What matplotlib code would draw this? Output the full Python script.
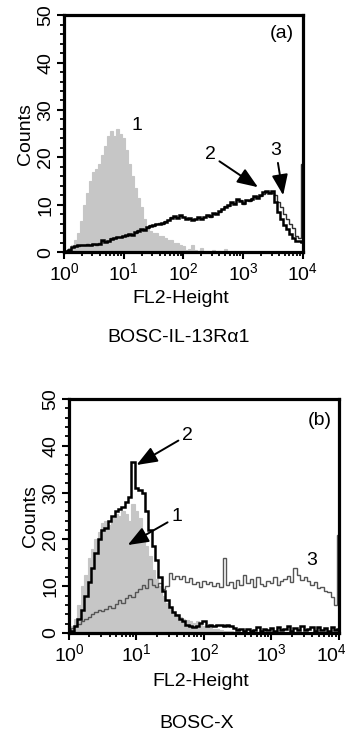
import numpy as np
import matplotlib
matplotlib.use("Agg")
import matplotlib.pyplot as plt
import matplotlib.transforms as mtransforms
from matplotlib.ticker import MultipleLocator, LogLocator, NullFormatter

plt.rcParams['font.family'] = ['Liberation Sans', 'DejaVu Sans']
plt.rcParams['mathtext.fontset'] = 'custom'
plt.rcParams['mathtext.rm'] = 'Liberation Sans'
plt.rcParams['mathtext.it'] = 'Liberation Sans:italic'

# channel grid (log10 of FL2-Height), 0.05 decade bins
log_channel = np.round(np.arange(0, 4.001, 0.05), 2)

# Panel (a): BOSC-IL-13Ra1
a_curve1 = [0, 0.3, 0.8, 1.5, 2.5, 4, 6.5, 10, 12.5, 15,
            17, 17.5, 18.5, 20.5, 22.5, 24.5, 25.5, 24.5, 26, 25,
            24, 21.5, 18.5, 16, 13.5, 11.5, 9.5, 7, 5.5, 4.5,
            4, 4, 3.5, 3.5, 3, 2.5, 2.5, 2, 2, 1.5,
            1.2, 0.5, 0.6, 1.5, 0.4, 0.3, 0.8, 0.2, 0.3, 0.1,
            0.5, 0, 0.2, 0, 0.6, 0, 0, 0.2, 0, 0,
            0, 0, 0, 0, 0, 0, 0, 0, 0, 0,
            0, 0, 0, 0, 0, 0, 0, 0, 0, 0, 0]
a_curve2 = [0, 0.2, 0.5, 1, 1.2, 1.5, 1.5, 1.5, 1.6, 1.6,
            1.7, 1.7, 1.8, 2.5, 2.2, 2.4, 2.8, 3.0, 3.1, 3.2,
            3.4, 3.6, 3.8, 3.7, 4.2, 4.5, 4.8, 4.7, 5.3, 5.6,
            5.8, 5.9, 6.0, 6.1, 6.4, 6.8, 7.2, 7.6, 7.3, 7.8,
            7.4, 7.0, 7.2, 6.8, 6.9, 7.4, 7.1, 7.5, 7.8, 7.6,
            8.2, 8.0, 8.6, 9.2, 9.6, 9.9, 10.5, 10.2, 11.2, 10.8,
            10.4, 10.9, 11.0, 11.3, 11.8, 11.5, 12.0, 12.6, 13.0, 12.4,
            12.8, 10.5, 8.5, 7.0, 5.8, 4.8, 3.8, 3.0, 2.4, 2.3, 2.2]
a_curve3 = [0, 0.3, 0.6, 1.1, 1.3, 1.4, 1.6, 1.5, 1.7, 1.5,
            1.8, 1.6, 2.0, 2.3, 2.4, 2.3, 2.9, 2.9, 3.3, 3.1,
            3.5, 3.5, 3.9, 3.8, 4.1, 4.6, 4.7, 4.9, 5.2, 5.7,
            5.6, 6.0, 6.2, 6.0, 6.5, 6.7, 7.4, 7.5, 7.5, 7.6,
            7.5, 7.2, 7.0, 6.9, 7.1, 7.2, 7.3, 7.4, 7.9, 7.5,
            8.0, 8.2, 8.4, 9.0, 9.8, 9.7, 10.3, 10.4, 10.9, 11.0,
            10.2, 11.1, 10.8, 11.5, 11.6, 11.8, 11.8, 12.3, 12.7, 12.6,
            12.5, 12.0, 10.5, 9.5, 8.0, 7.0, 6.0, 5.0, 3.5, 3.0, 18.7]

# Panel (b): BOSC-X
b_curve1 = [0.5, 1.5, 3, 6, 10, 12.5, 16, 18, 20, 21.5,
            23.5, 24, 23, 24.5, 25.5, 25, 26, 25.5, 24, 27.5,
            26, 24.5, 21, 18.5, 16.5, 13.5, 11.5, 10, 8, 6.5,
            5.5, 4.5, 4, 3.5, 3, 2.8, 2.5, 2.2, 2.5, 2,
            1.5, 1.2, 1.0, 0.8, 0.8, 0.6, 0.5, 0.4, 0.5, 0.3,
            0.3, 0.2, 0.3, 0.2, 0.2, 0.1, 0.2, 0.1, 0.1, 0.1,
            0, 0, 0, 0, 0, 0, 0, 0, 0, 0,
            0, 0, 0, 0, 0, 0, 0, 0, 0, 0, 0]
b_curve2 = [0, 0.5, 1.5, 3, 5, 8, 11, 14, 17, 20,
            22, 22.5, 24, 25, 26, 26.5, 27, 28, 29, 36.5,
            31, 30.5, 30, 26, 22, 18.5, 15.5, 12, 9, 7,
            5.5, 4.5, 3.8, 3, 2.5, 1.8, 1.5, 1.2, 1.4, 2.2,
            2.5, 1.5, 1.8, 1.6, 1.7, 1.7, 1.6, 1.7, 1.5, 1.0,
            0.6, 0.8, 0.5, 0.9, 0.4, 0.7, 1.2, 0.5, 0.8, 0.6,
            1.0, 0.4, 1.3, 0.6, 0.8, 1.5, 0.5, 1.1, 0.7, 1.4,
            0.6, 0.9, 1.2, 0.5, 1.3, 0.7, 1.0, 0.5, 1.2, 0.6, 0.8]
b_curve3 = [0.5, 1, 1.5, 2, 2.5, 3, 3.5, 4, 4.5, 5,
            4.6, 5.2, 5.8, 5.4, 6.2, 7, 6.5, 7.4, 8.2, 7.8,
            8.8, 9.4, 10.2, 9.6, 11.5, 10.3, 9.8, 10.6, 9.5, 10.1,
            12.8, 11.5, 12.2, 11.6, 12.1, 10.9, 11.7, 10.5, 10.9, 9.8,
            11.2, 10.4, 11.0, 10.1, 10.7, 9.9, 16.0, 10.3, 10.8, 9.6,
            11.4, 10.2, 12.3, 10.6, 11.5, 9.8, 11.9, 10.4, 10.0, 11.2,
            10.6, 12.0, 10.3, 11.1, 11.6, 12.2, 11.0, 13.8, 12.5, 11.4,
            12.0, 11.2, 10.3, 11.0, 9.6, 9.9, 9.0, 8.8, 7.6, 6.0, 21]

x_ticks = [1, 10, 100, 1000, 10000]
y_ticks = [0, 10, 20, 30, 40, 50]

FS = 14
fig = plt.figure(figsize=(3.45, 7.33), dpi=100)

edges = 10 ** np.append(log_channel - 0.025, log_channel[-1] + 0.025)

def make_axes(rect, c1, c2, c3, c3color, shift_last=0):
    ax = fig.add_axes(rect)
    ax.stairs(c1, edges, fill=True, facecolor='#c6c6c6', edgecolor='#c6c6c6',
              lw=0.8, zorder=1)
    ax.stairs(c3, edges, color=c3color, lw=1.0, zorder=2)
    ax.stairs(c2, edges, color='black', lw=1.8, zorder=3)
    ax.set_xscale('log')
    ax.set_xlim(1, 10000)
    ax.set_ylim(0, 50)
    ax.set_xticks(x_ticks)
    ax.set_xticklabels([r'$10^{%d}$' % i for i in range(5)], fontsize=FS)
    ax.xaxis.set_minor_locator(LogLocator(base=10, subs=np.arange(2, 10), numticks=20))
    ax.xaxis.set_minor_formatter(NullFormatter())
    ax.set_yticks(y_ticks)
    ax.set_yticklabels([str(v) for v in y_ticks], fontsize=FS, rotation=90, va='center')
    ax.yaxis.set_minor_locator(MultipleLocator(2))
    ax.tick_params(which='major', direction='out', length=5, width=1.5, pad=2)
    ax.tick_params(which='minor', direction='out', length=3, width=1.3)
    for s in ax.spines.values():
        s.set_linewidth(2.3)
    ax.set_ylabel('Counts', fontsize=FS, labelpad=2)
    if shift_last:
        lab = ax.get_xticklabels()[-1]
        lab.set_transform(lab.get_transform() +
                          mtransforms.ScaledTranslation(shift_last / 100, 0, fig.dpi_scale_trans))
    return ax

arrow = dict(arrowstyle='-|>,head_width=0.35,head_length=0.9', lw=1.4, color='black',
             shrinkA=1, shrinkB=0)

axa = make_axes([0.1855, 0.656, 0.692, 0.3233], a_curve1, a_curve2, a_curve3, '#303030')
axa.text(10 ** 3.65, 46.2, '(a)', fontsize=FS, ha='center', va='center')
axa.text(16.7, 26.8, '1', fontsize=FS, ha='center', va='center')
axa.annotate('2', xy=(1780, 13.7), xytext=(280, 20.5), fontsize=FS, ha='center', va='center',
             arrowprops=arrow)
axa.annotate('3', xy=(4700, 12), xytext=(3550, 21.5), fontsize=FS, ha='center', va='center',
             arrowprops=arrow)

axb = make_axes([0.2, 0.1364, 0.7826, 0.3192], b_curve1, b_curve2, b_curve3, '#555555',
                shift_last=-8)
axb.text(10 ** 3.72, 45.5, '(b)', fontsize=FS, ha='center', va='center')
axb.annotate('2', xy=(10, 35.9), xytext=(10 ** 1.76, 42.3), fontsize=FS, ha='center', va='center',
             arrowprops=arrow)
axb.annotate('1', xy=(10 ** 0.87, 18.8), xytext=(10 ** 1.6, 24.8), fontsize=FS, ha='center', va='center',
             arrowprops=arrow)
axb.text(10 ** 3.6, 15.6, '3', fontsize=FS, ha='center', va='center')

fig.text(181 / 345, (733 - 298) / 733, 'FL2-Height', fontsize=FS, ha='center', va='center')
fig.text(179 / 345, (733 - 338) / 733, 'BOSC-IL-13R\u03b11', fontsize=FS, ha='center', va='center')
fig.text(201 / 345, (733 - 682) / 733, 'FL2-Height', fontsize=FS, ha='center', va='center')
fig.text(197 / 345, (733 - 723) / 733, 'BOSC-X', fontsize=FS, ha='center', va='center')

fig.savefig('out.png', dpi=100)
